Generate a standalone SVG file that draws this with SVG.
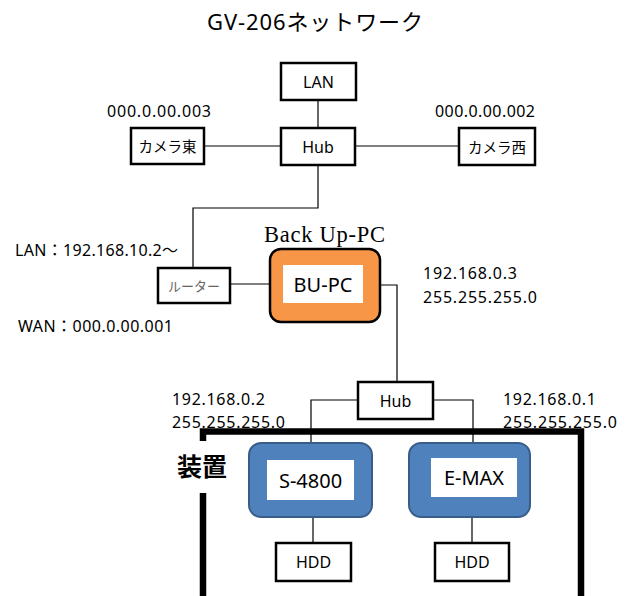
<svg xmlns="http://www.w3.org/2000/svg" width="631" height="596" viewBox="0 0 631 596">
<style>
text{font-family:"Noto Sans","Noto Sans CJK JP",sans-serif;fill:#000}
.box{fill:#fff;stroke:#000;stroke-width:2.5}
.lbl{font-size:16px;text-anchor:middle;dominant-baseline:central}
.cjk{font-size:14.5px}
.big{font-size:20px}
.ip{font-size:16px}
.ln{fill:none;stroke:#000;stroke-width:1.2}
.blue{fill:#4F81BD;stroke:#385D8A;stroke-width:2}
.inner{fill:#fff}
</style>
<rect width="631" height="596" fill="#fff"/>
<text x="207" y="30" font-size="22" textLength="216">GV-206ネットワーク</text>

<g id="frame">
<path d="M203,441 V431.5 H581 V600 M203,493 V600" fill="none" stroke="#000" stroke-width="6.5"/>
<text x="202" y="476" font-size="25" font-weight="bold" text-anchor="middle">装置</text>
</g>

<g id="connectors">
<path class="ln" d="M318,100 V128"/>
<path class="ln" d="M204,146 H281"/>
<path class="ln" d="M355,146 H459"/>
<path class="ln" d="M318,165 V208 H193 V268"/>
<path class="ln" d="M230,284 H270"/>
<path class="ln" d="M380,285 H397 V382"/>
<path class="ln" d="M358,400 H311 V443"/>
<path class="ln" d="M433,400 H473 V443"/>
<path class="ln" d="M313,517 V543"/>
<path class="ln" d="M472,517 V543"/>
</g>

<g id="lan"><rect class="box" x="281" y="63" width="75" height="37"/><text class="lbl" x="318.5" y="82">LAN</text></g>
<g id="hub1"><rect class="box" x="281" y="128" width="74" height="37"/><text class="lbl" x="318" y="147">Hub</text></g>
<g id="cam-east"><rect class="box" x="131" y="128" width="73" height="36"/><text class="lbl cjk" x="167.5" y="146">カメラ東</text></g>
<g id="cam-west"><rect class="box" x="459" y="128" width="76" height="37"/><text class="lbl cjk" x="497" y="147">カメラ西</text></g>
<text class="ip" x="107" y="117" textLength="104">000.0.00.003</text>
<text class="ip" x="435" y="117" textLength="100">000.0.00.002</text>

<g id="router"><rect class="box" x="158" y="268" width="72" height="35"/><text class="lbl" x="194" y="286" style="fill:#666;font-size:13px">ルーター</text></g>
<text class="ip" x="15" y="256" textLength="163">LAN：192.168.10.2～</text>
<text class="ip" x="18" y="332" textLength="155">WAN：000.0.00.001</text>

<g id="bupc">
<text x="264" y="242" font-size="22.5" textLength="121" style="font-family:'Liberation Serif',serif">Back Up-PC</text>
<rect x="270" y="249" width="110" height="73" rx="11" fill="#F79646" stroke="#000" stroke-width="2.5"/>
<rect class="inner" x="283" y="265" width="80" height="38"/>
<text class="lbl big" x="323" y="284">BU-PC</text>
</g>
<text class="ip" x="423" y="279" textLength="94">192.168.0.3</text>
<text class="ip" x="423" y="303" textLength="114">255.255.255.0</text>

<g id="hub2"><rect class="box" x="358" y="382" width="75" height="37"/><text class="lbl" x="395.5" y="401">Hub</text></g>
<text class="ip" x="172" y="405" textLength="93">192.168.0.2</text>
<text class="ip" x="172" y="428" textLength="113">255.255.255.0</text>
<text class="ip" x="503" y="405" textLength="93">192.168.0.1</text>
<text class="ip" x="503" y="428" textLength="114">255.255.255.0</text>

<g id="s4800">
<rect class="blue" x="249" y="443" width="123" height="74" rx="12"/>
<rect class="inner" x="267" y="460" width="87" height="40"/>
<text class="lbl big" x="310.5" y="480">S-4800</text>
</g>
<g id="emax">
<rect class="blue" x="409" y="443" width="121" height="74" rx="12"/>
<rect class="inner" x="431" y="458" width="86" height="39"/>
<text class="lbl big" x="474" y="477">E-MAX</text>
</g>
<g id="hdd1"><rect class="box" x="276" y="543" width="75" height="38"/><text class="lbl" x="313.5" y="562">HDD</text></g>
<g id="hdd2"><rect class="box" x="435" y="543" width="74" height="38"/><text class="lbl" x="472" y="562">HDD</text></g>
</svg>
